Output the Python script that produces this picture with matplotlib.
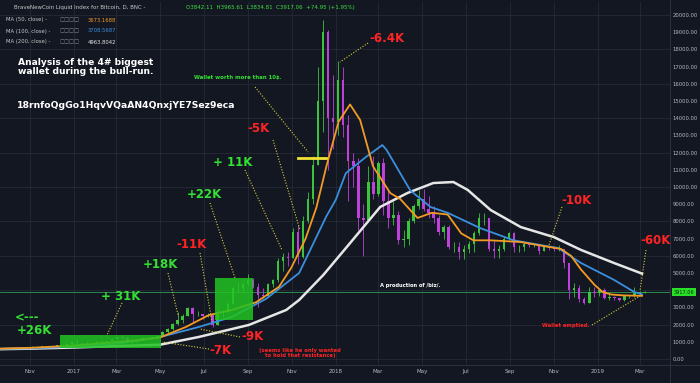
import numpy as np
import pandas as pd
import matplotlib
matplotlib.use("Agg")
from matplotlib import pyplot as plt
import matplotlib.dates as mdates
from matplotlib.patches import Rectangle
from matplotlib.lines import Line2D

# ---- weekly candles (close / high / low) ----
week_start = pd.date_range("2016-09-19", "2019-03-04", freq="7D")

closes = [605, 615, 615, 640, 655, 700, 710, 700, 740, 735, 765, 770, 790, 890, 960,
          # 2017
          910, 820, 920, 915, 1010, 1000, 1050, 1150, 1270, 1230, 1020, 1040, 1080,
          1200, 1180, 1250, 1350, 1550, 1750, 2050, 2250, 2500, 2950, 2600, 2600, 2500,
          2550, 1950, 2750, 2750, 3200, 4100, 4100, 4350, 4600, 4200, 3700, 3650, 4350,
          4600, 5700, 5950, 5900, 7400, 5950, 8000, 9300, 11300, 15000, 19000, 14000, 13800,
          # 2018
          16200, 13600, 11500, 11200, 8200, 8100, 10300, 9600, 11400, 9200, 8200, 8400, 6900,
          7000, 8000, 8900, 9300, 8700, 8500, 8200, 7400, 7700, 6500, 6500, 6200, 6400,
          6700, 7350, 8200, 8200, 6400, 6300, 6400, 7000, 7300, 6500, 6500, 6700, 6600,
          6600, 6300, 6500, 6450, 6400, 6400, 5600, 4000, 4100, 3500, 3250, 3900, 3850, 4000,
          # 2019
          3550, 3600, 3550, 3450, 3650, 3650, 3850, 3850, 3917]
highs = [610, 620, 625, 645, 660, 720, 740, 720, 750, 750, 775, 780, 795, 900, 1000,
         1150, 910, 930, 925, 1040, 1070, 1060, 1200, 1290, 1330, 1260, 1100, 1100,
         1210, 1200, 1260, 1360, 1600, 1800, 2100, 2760, 2600, 3000, 3000, 2770, 2600,
         2700, 2550, 2900, 2850, 3300, 4200, 4500, 4450, 4950, 4700, 4400, 4100, 4400,
         4650, 5850, 6150, 6200, 7600, 7800, 8300, 9700, 11800, 17000, 19700, 19100, 16500,
         17300, 17000, 14200, 12000, 11700, 9000, 11200, 11800, 11500, 11700, 9900, 9200, 8600,
         7500, 8200, 9000, 9800, 9900, 9500, 8900, 8400, 7800, 7800, 6800, 6800, 6600,
         6850, 7450, 8500, 8500, 8200, 6900, 6600, 7100, 7400, 7400, 6600, 6800, 6800,
         6700, 6700, 6600, 6500, 6500, 6600, 6400, 5600, 4400, 4300, 3600, 4200, 4200, 4050,
         4100, 3750, 3650, 3550, 3700, 3700, 4200, 3950, 3965]
lows = [590, 600, 605, 610, 630, 650, 680, 690, 700, 720, 730, 755, 765, 790, 880,
        800, 760, 800, 880, 910, 940, 990, 1050, 1150, 1140, 980, 890, 950,
        1080, 1150, 1180, 1240, 1350, 1540, 1700, 2000, 2100, 2500, 2100, 2500, 2300,
        2450, 1850, 1950, 2450, 2650, 3200, 3900, 3980, 4300, 4100, 3000, 3550, 3700,
        4200, 4500, 5100, 5400, 5900, 5500, 5900, 7900, 9000, 11300, 13200, 11000, 12200,
        13000, 12900, 9200, 10000, 7500, 6000, 8100, 9300, 9500, 8400, 7600, 7800, 6700,
        6500, 6600, 7900, 8700, 8600, 8200, 7900, 7200, 7000, 6400, 6200, 5800, 5800,
        6150, 6200, 7200, 7800, 6300, 5900, 5900, 6300, 6900, 6200, 6200, 6300, 6500,
        6500, 6100, 6300, 6350, 6300, 6300, 5300, 3500, 3600, 3300, 3200, 3250, 3600, 3650,
        3500, 3450, 3450, 3400, 3400, 3550, 3600, 3700, 3855]

# ---- moving averages ----
ma50_dates = ["2016-09-19", "2016-11-01", "2017-01-01", "2017-03-01", "2017-04-01", "2017-05-01",
              "2017-06-06", "2017-07-08", "2017-08-09", "2017-09-12", "2017-10-14", "2017-10-31",
              "2017-11-20", "2017-12-05", "2017-12-19", "2018-01-05", "2018-01-21", "2018-02-04",
              "2018-02-22", "2018-03-18", "2018-04-01", "2018-04-25", "2018-05-15", "2018-06-06",
              "2018-06-25", "2018-07-12", "2018-08-05", "2018-09-16", "2018-10-20", "2018-11-11",
              "2018-11-25", "2018-12-09", "2018-12-28", "2019-01-08", "2019-01-20", "2019-02-05",
              "2019-03-04"]
ma50_vals = [600, 650, 780, 980, 1100, 1250, 1860, 2550, 2850, 3300, 4200, 5300, 7000, 8800,
             11200, 13800, 14800, 13900, 11200, 9650, 9300, 8200, 8500, 8400, 7300, 6900, 6900,
             6800, 6550, 6400, 6000, 5200, 4300, 3900, 3750, 3700, 3673]

ma100_dates = ["2016-09-19", "2016-11-01", "2017-01-01", "2017-03-01", "2017-04-29", "2017-06-24",
               "2017-08-09", "2017-09-26", "2017-11-11", "2017-12-19", "2018-01-01", "2018-01-15",
               "2018-02-12", "2018-03-07", "2018-03-13", "2018-04-04", "2018-04-15", "2018-05-13",
               "2018-06-06", "2018-07-22", "2018-09-06", "2018-11-07", "2018-12-09", "2019-01-24",
               "2019-02-21", "2019-03-04"]
ma100_vals = [590, 620, 720, 880, 1250, 1860, 2440, 3500, 5000, 8300, 9250, 10800, 11740, 12440,
              12150, 10580, 9800, 8840, 8500, 7600, 6900, 6450, 5580, 4600, 3900, 3760]

ma200_dates = ["2016-09-19", "2016-11-01", "2017-01-01", "2017-03-01", "2017-05-01", "2017-06-24",
               "2017-09-02", "2017-10-24", "2017-11-11", "2017-12-15", "2018-01-21", "2018-03-04",
               "2018-04-11", "2018-05-17", "2018-06-14", "2018-07-04", "2018-08-05", "2018-09-16",
               "2018-11-01", "2018-12-09", "2019-01-24", "2019-03-04"]
ma200_vals = [570, 600, 670, 750, 830, 1280, 1980, 2850, 3430, 4900, 6740, 8840, 9650, 10230,
              10290, 9830, 8660, 7670, 7090, 6340, 5580, 4964]

tick_dates = ["2016-11-01", "2017-01-01", "2017-03-01", "2017-05-01", "2017-07-01", "2017-09-01",
              "2017-11-01", "2018-01-01", "2018-03-01", "2018-05-01", "2018-07-01", "2018-09-01",
              "2018-11-01", "2019-01-01", "2019-03-01"]
tick_labels = ["Nov", "2017", "Mar", "May", "Jul", "Sep", "Nov", "2018", "Mar", "May", "Jul",
               "Sep", "Nov", "2019", "Mar"]

last_price = 3917.06

BG = "#131722"
GRID = "#252a37"
UP = "#3cc43c"
DOWN = "#c040dc"
RED = "#ff2424"
GREEN = "#33e033"
DOT = "#d6cf3a"

fig = plt.figure(figsize=(7, 3.83), dpi=100, facecolor=BG)
ax = fig.add_axes([0, 18 / 383, 670 / 700, 363 / 383], facecolor=BG)


def fx(x):
    return x / 700


def fy(y):
    return 1 - y / 383


# candles
x = mdates.date2num(week_start) + 3.5
c = np.array(closes, dtype=float)
o = np.concatenate([[c[0]], c[:-1]])
cols = [UP if cc >= oo else DOWN for cc, oo in zip(c, o)]
ax.vlines(x, lows, highs, colors=cols, lw=0.6, zorder=3)
ax.bar(x, np.maximum(np.abs(c - o), 25), bottom=np.minimum(c, o), width=3.4,
       color=cols, zorder=3)

# moving averages
ax.plot(pd.to_datetime(ma200_dates), ma200_vals, color="#e6e6e6", lw=1.8, zorder=4,
        solid_joinstyle="round")
ax.plot(pd.to_datetime(ma100_dates), ma100_vals, color="#3a8fde", lw=1.3, zorder=4,
        solid_joinstyle="round")
ax.plot(pd.to_datetime(ma50_dates), ma50_vals, color="#f39a25", lw=1.3, zorder=5,
        solid_joinstyle="round")

# wallet holding boxes
for start, end, lo, hi in [("2016-12-12", "2017-05-02", 650, 1400),
                           ("2017-07-17", "2017-09-08", 2270, 4710)]:
    s, e = mdates.datestr2num(start), mdates.datestr2num(end)
    ax.add_patch(Rectangle((s, lo), e - s, hi - lo, facecolor="#22c322", alpha=0.85,
                           edgecolor="none", zorder=6))

# 10$ line
ax.plot(pd.to_datetime(["2017-11-09", "2017-12-18"]), [11700, 11700], color="#f2e233",
        lw=2, zorder=7)

# current price line
ax.axhline(last_price, color="#2f9a55", lw=0.6, zorder=2)

ax.set_xlim(mdates.datestr2num("2016-09-20"), mdates.datestr2num("2019-04-12"))
ax.set_ylim(-349, 20756)

ax.set_xticks(pd.to_datetime(tick_dates))
ax.set_xticklabels(tick_labels)
ax.yaxis.tick_right()
ax.set_yticks(range(0, 20001, 1000))
ax.set_yticklabels([f"{v:.2f}" for v in range(0, 20001, 1000)])
ax.tick_params(axis="x", colors="#b5b8c0", labelsize=4, length=0, pad=3)
ax.tick_params(axis="y", colors="#b5b8c0", labelsize=3.8, length=0, pad=2)
ax.grid(axis="x", color=GRID, lw=0.6, zorder=0)
for v in range(0, 20001, 2000):
    ax.axhline(v, color=GRID, lw=0.6, zorder=0)
for sp in ax.spines.values():
    sp.set_visible(False)

# separators of the axis strips
fig.add_artist(Line2D([fx(670), fx(670)], [0, 1], color="#2c3040", lw=0.7))
fig.add_artist(Line2D([0, 1], [fy(365), fy(365)], color="#2c3040", lw=0.7))

# price tag
fig.text(fx(684), fy(292), f"{last_price:.2f}", fontsize=3.6, color="#0d200d",
         ha="center", va="center",
         bbox=dict(boxstyle="square,pad=0.35", fc="#27e027", ec="none"))

# header
fig.text(fx(14), fy(7), "BraveNewCoin Liquid Index for Bitcoin, D, BNC -", fontsize=4,
         color="#c8c8c8", va="center")
fig.text(fx(186), fy(7), "O3842.11  H3965.61  L3834.81  C3917.06  +74.95 (+1.95%)",
         fontsize=4, color="#3fe03f", va="center")
for i, (name, val, col) in enumerate([("MA (50, close) -", "3673.1688", "#f39a25"),
                                      ("MA (100, close) -", "3708.5687", "#3a8fde"),
                                      ("MA (200, close) -", "4963.8042", "#e6e6e6")]):
    yy = 20 + i * 11
    fig.text(fx(6), fy(yy), name, fontsize=3.8, color="#c8c8c8", va="center")
    fig.text(fx(60), fy(yy), "\u25a1\u25a1\u25a1\u25a1", fontsize=3.8, color="#8a8d96",
             va="center")
    fig.text(fx(88), fy(yy), val, fontsize=3.8, color=col, va="center")

# annotations
fig.text(fx(18), fy(67), "Analysis of the 4# biggest\nwallet during the bull-run.",
         fontsize=6.6, color="white", weight="bold", va="center", linespacing=0.95)
fig.text(fx(17), fy(105), "18rnfoQgGo1HqvVQaAN4QnxjYE7Sez9eca", fontsize=6.7,
         color="white", weight="bold", va="center")
fig.text(fx(194), fy(78), "Wallet worth more than 10$.", fontsize=3.9, color=GREEN,
         weight="bold", va="center")
fig.text(fx(380), fy(286), "A production of /biz/.", fontsize=3.7, color="white",
         weight="bold", va="center")
fig.text(fx(542), fy(326), "Wallet emptied.", fontsize=3.8, color=RED, weight="bold",
         va="center")
fig.text(fx(300), fy(353), "(seems like he only wanted\nto hold that resistance)",
         fontsize=3.8, color=RED, weight="bold", ha="center", va="center", linespacing=1.0)

labels = [("-6.4K", 369, 38, RED), ("-5K", 247, 128, RED), ("+ 11K", 213, 163, GREEN),
          ("+22K", 187, 195, GREEN), ("-11K", 176, 245, RED), ("+18K", 143, 265, GREEN),
          ("+ 31K", 101, 297, GREEN), ("<---", 15, 318, GREEN), ("+26K", 17, 330, GREEN),
          ("-9K", 241, 336, RED), ("-7K", 209, 350, RED), ("-10K", 561, 200, RED),
          ("-60K", 640, 240, RED)]
for txt, lx, ly, col in labels:
    fig.text(fx(lx), fy(ly), txt, fontsize=8.5, color=col, weight="bold", va="center")

leaders = [((368, 43), (340, 62)), ((255, 87), (308, 152)), ((273, 140), (300, 230)),
           ((245, 170), (282, 250)), ((210, 203), (235, 278)), ((200, 253), (212, 322)),
           ((168, 273), (178, 315)), ((122, 303), (107, 335)), ((240, 337), (200, 329)),
           ((209, 349), (162, 342)), ((562, 207), (549, 245)), ((646, 250), (640, 291)),
           ((592, 325), (640, 296))]
for (x0, y0), (x1, y1) in leaders:
    fig.add_artist(Line2D([fx(x0), fx(x1)], [fy(y0), fy(y1)], color=DOT, lw=0.8,
                          linestyle=(0, (1, 1.5)), zorder=10))

fig.savefig("out.png", dpi=100, facecolor=BG)
